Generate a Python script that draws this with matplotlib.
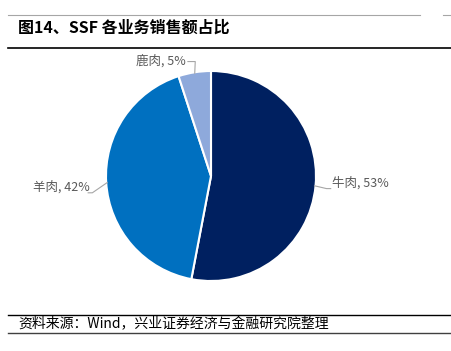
import matplotlib

matplotlib.use("Agg")

import matplotlib.pyplot as plt
from matplotlib.lines import Line2D
import numpy as np

plt.rcParams["font.family"] = ["Noto Sans CJK SC", "DejaVu Sans"]

categories = ["牛肉", "羊肉", "鹿肉"]
shares = [53, 42, 5]
colors = ["#002060", "#0070C0", "#8EA9DB"]

W, H = 452, 351
fig = plt.figure(figsize=(W / 100, H / 100), dpi=100)

# pie centre (211, 176) px, radius 105 px
cx, cy, r = 211, 176, 105
ax = fig.add_axes([(cx - r) / W, (H - cy - r) / H, 2 * r / W, 2 * r / H])
wedges, _ = ax.pie(shares, colors=colors, startangle=90, counterclock=False,
                   wedgeprops=dict(edgecolor="white", linewidth=1.5))
ax.set_xlim(-1, 1)
ax.set_ylim(-1, 1)
ax.set_aspect("auto")
ax.axis("off")

# label placement: (elbow offset, text position) in pie units
label_cfg = {
    "牛肉": dict(elbow=(1.10, -0.12), text=(1.15, -0.07), ha="left"),
    "羊肉": dict(elbow=(-1.13, -0.16), text=(-1.15, -0.10), ha="right"),
    "鹿肉": dict(elbow=(-0.15, 1.09), text=(-0.24, 1.10), ha="right"),
}
for w, name, val in zip(wedges, categories, shares):
    mid = np.deg2rad((w.theta1 + w.theta2) / 2)
    edge = (np.cos(mid) * 0.99, np.sin(mid) * 0.99)
    cfg = label_cfg[name]
    ex, ey = cfg["elbow"]
    tx, ty = cfg["text"]
    if name == "鹿肉":
        pts = [edge, (ex, ey), (tx + 0.02, ey)]
    else:
        pts = [edge, (ex, ey), (ex + (0.04 if ex > 0 else -0.04), ey)]
    ax.add_line(Line2D([p[0] for p in pts], [p[1] for p in pts],
                       color="#A6A6A6", linewidth=0.8, clip_on=False))
    ax.text(tx, ty, f"{name}, {val}%", ha=cfg["ha"], va="center",
            fontsize=9, color="#595959", clip_on=False)


def hline(y, x0, x1, color, lw):
    fig.add_artist(Line2D([x0 / W, x1 / W], [1 - y / H, 1 - y / H],
                          color=color, linewidth=lw))


hline(15, 8, 420, "#A6A6A6", 0.8)
hline(15, 443, 452, "#A6A6A6", 0.8)
hline(48, 8, 452, "#000000", 1.2)
hline(315, 8, 452, "#000000", 1.0)
hline(333, 8, 452, "#404040", 1.0)

fig.text(18 / W, 1 - 28 / H, "图14、SSF 各业务销售额占比", fontsize=11.5,
         fontweight="bold", va="center", ha="left", color="#000000")
fig.text(18 / W, 1 - 324 / H, "资料来源：Wind，兴业证券经济与金融研究院整理",
         fontsize=10, va="center", ha="left", color="#000000")

fig.savefig("out.png", dpi=100)
plt.close(fig)
